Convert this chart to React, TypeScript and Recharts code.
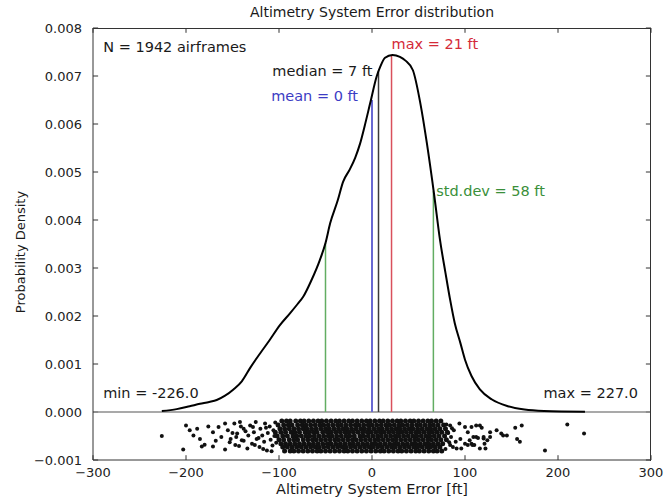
import { ComposedChart, Line, Scatter, XAxis, YAxis, ReferenceLine, ReferenceDot } from "recharts";

const FONT = "DejaVu Sans, sans-serif";

// kde curve
const curveX = [
  -226, -210, -196, -185, -175, -167, -158, -149, -140, -131, -120, -110, -99, -88, -80, -74,
  -65, -56, -50, -45, -37, -31, -24, -18, -13, -8, -2, 5, 9, 14, 22, 30, 36, 44, 52, 59, 67, 73,
  79, 84, 89, 95, 100, 107, 116, 129, 146, 164, 185, 229,
];
const curveY = [
  0.00002, 0.00006, 0.00012, 0.00017, 0.00021, 0.00025, 0.00034, 0.00047, 0.00064, 0.00092,
  0.00123, 0.0015, 0.00181, 0.00206, 0.00225, 0.0024, 0.00275, 0.00317, 0.00352, 0.00393,
  0.0044, 0.0048, 0.00505, 0.0053, 0.00558, 0.00595, 0.00643, 0.00699, 0.0072, 0.00738, 0.00744,
  0.0074, 0.00732, 0.00712, 0.00643, 0.0056, 0.0045, 0.0036, 0.0029, 0.00234, 0.00185, 0.00144,
  0.00109, 0.00075, 0.00047, 0.00026, 0.00012, 0.00005, 0.00002, 0.000005,
];

// vertical markers: x position and height (curve value there)
const statKeys = ["mean", "median", "max", "stdLo", "stdHi"];
const statX = [0, 7, 21, -50, 66];
const statTop = [0.0065, 0.0071, 0.00744, 0.00352, 0.0046];

const xTicks = [-300, -200, -100, 0, 100, 200, 300];
const yTicks = [-0.001, 0, 0.001, 0.002, 0.003, 0.004, 0.005, 0.006, 0.007, 0.008];

// strip of individual airframes under the curve (y in units of 1e-5)
const stripLoose =
  "-226:-50 -203:-78 -200:-28 -196:-38 -192:-49 -188:-35 -185:-56 -183:-72 -180:-68 -176:-30 " +
  "-171:-72 -171:-42 -168:-60 -165:-31 -162:-52 -158:-24 -158:-78 -155:-38 -153:-63 -152:-56 " +
  "-150:-44 -148:-24 -147:-69 -146:-52 -145:-45 -143:-71 -142:-21 -141:-30 -140:-59 -138:-35 " +
  "-138:-60 -136:-40 -134:-76 -133:-49 -131:-28 -129:-66 -128:-31 -127:-42 -126:-69 -125:-21 " +
  "-124:-56 -122:-54 -121:-73 -120:-35 -118:-49 -117:-77 -116:-62 -115:-24 -114:-33 -113:-80 " +
  "-112:-44 -110:-30 -109:-58 -108:-82 -107:-70 -106:-38 -105:-50 -104:-22 -103:-64 " +
  "80:-26 82:-44 83:-63 79:-77 84:-28 84:-69 85:-52 86:-34 87:-73 88:-38 90:-62 91:-76 " +
  "94:-24 95:-56 96:-76 100:-31 100:-66 103:-42 103:-69 105:-59 107:-31 107:-66 108:-69 " +
  "109:-52 110:-69 112:-28 112:-52 114:-54 116:-28 116:-76 118:-33 120:-55 120:-52 121:-66 " +
  "122:-76 124:-59 127:-42 127:-52 134:-38 139:-45 141:-49 145:-49 154:-33 156:-56 159:-62 " +
  "161:-28 186:-80 210:-26 228:-45";

const stripRows = [
  { y: -19, xs: [-97, -92, -88, -82, -77, -73, -68, -63, -58, -54, -49, -44, -39, -35, -30, -25, -21, -16, -11, -6, -2, 3, 8, 12, 17, 22, 27, 31, 36, 41, 45, 50, 55, 60, 64, 69, 74] },
  { y: -27, xs: [-101, -95, -90, -86, -80, -75, -71, -66, -61, -56, -52, -47, -42, -37, -33, -28, -23, -18, -14, -9, -4, 0, 5, 10, 15, 19, 24, 29, 33, 38, 43, 48, 52, 57, 62, 66, 71, 77] },
  { y: -35, xs: [-99, -94, -89, -84, -79, -74, -70, -65, -60, -55, -50, -46, -41, -36, -31, -27, -22, -17, -12, -8, -3, 2, 7, 11, 16, 21, 26, 30, 35, 40, 44, 49, 54, 59, 63, 68, 73, 79] },
  { y: -42, xs: [-104, -98, -93, -87, -83, -78, -72, -68, -63, -59, -53, -48, -44, -39, -34, -29, -25, -20, -15, -10, -5, -1, 4, 9, 13, 18, 23, 28, 32, 37, 42, 47, 51, 56, 61, 65, 70, 75, 81] },
  { y: -50, xs: [-102, -96, -91, -85, -81, -76, -71, -67, -62, -57, -52, -47, -43, -38, -33, -28, -24, -19, -13, -9, -4, 1, 6, 10, 15, 20, 25, 29, 34, 39, 44, 48, 53, 58, 62, 67, 72, 78] },
  { y: -58, xs: [-100, -95, -89, -84, -80, -74, -69, -64, -60, -55, -50, -45, -40, -36, -31, -26, -21, -17, -12, -7, -2, 3, 7, 12, 17, 22, 26, 31, 36, 41, 46, 50, 55, 60, 64, 69, 74, 80] },
  { y: -66, xs: [-98, -93, -88, -83, -78, -73, -68, -63, -58, -53, -48, -44, -39, -34, -29, -24, -20, -15, -10, -5, 0, 4, 9, 14, 19, 24, 28, 33, 38, 43, 47, 52, 57, 61, 66, 71, 76] },
  { y: -73, xs: [-96, -91, -86, -81, -76, -71, -66, -61, -57, -52, -47, -42, -37, -32, -28, -23, -18, -13, -8, -3, 1, 6, 11, 16, 21, 25, 30, 35, 40, 45, 49, 54, 59, 63, 68, 73] },
  { y: -81, xs: [-94, -88, -84, -79, -74, -69, -64, -59, -55, -50, -45, -40, -35, -30, -26, -21, -16, -11, -6, -1, 4, 9, 13, 18, 23, 28, 32, 37, 42, 47, 51, 56, 61, 66, 70, 75] },
];

const STAT_COLOR: Record<string, string> = {
  mean: "#6868d2",
  median: "#3a3a3a",
  max: "#d9505c",
  stdLo: "#62ad62",
  stdHi: "#62ad62",
};

// text placed in data coordinates
const notes = [
  { text: "N = 1942 airframes", x: -289, y: 0.0075, anchor: "start", color: "#1a1a1a" },
  { text: "median = 7 ft", x: 0.5, y: 0.007, anchor: "end", color: "#1a1a1a" },
  { text: "mean = 0 ft", x: -15, y: 0.00648, anchor: "end", color: "#3c3cc4" },
  { text: "max = 21 ft", x: 21, y: 0.00756, anchor: "start", color: "#d42a38" },
  { text: "std.dev = 58 ft", x: 69, y: 0.00449, anchor: "start", color: "#3a8f3a" },
  { text: "min = -226.0", x: -289, y: 0.00029, anchor: "start", color: "#1a1a1a" },
  { text: "max = 227.0", x: 286, y: 0.00029, anchor: "end", color: "#1a1a1a" },
];

const curve = curveX.map((x, i) => ({ x, y: curveY[i] }));
const looseDots = stripLoose.split(" ").map((p) => {
  const [a, b] = p.split(":");
  return { x: Number(a), y: Number(b) * 1e-5 };
});
const coreDots = stripRows.flatMap((r) => r.xs.map((x) => ({ x, y: r.y * 1e-5 })));

const minus = (s: string) => s.replace("-", "\u2212");
const fmtX = (v: number) => minus(String(v));
const fmtY = (v: number) => minus(v.toFixed(3));

const tickStyle = { fill: "#222", fontSize: 13, fontFamily: FONT };
const FRAME = "#333";
// inward tick length, in data units (~5px)
const TX = 5.5;
const TY = 0.0001;

export default function App() {
  return (
    <div style={{ position: "absolute", left: 0, top: 0, width: 667, height: 501, background: "#fff", fontFamily: FONT }}>
      <div style={{ position: "absolute", left: 93, top: 3, width: 558, textAlign: "center", fontSize: 14, lineHeight: "18px", color: "#1a1a1a" }}>
        Altimetry System Error distribution
      </div>
      <ComposedChart width={667} height={501} margin={{ top: 28, right: 16, bottom: 11, left: 33 }}>
        <XAxis
          dataKey="x"
          type="number"
          domain={[-300, 300]}
          ticks={xTicks}
          tickFormatter={fmtX}
          tick={tickStyle}
          tickLine={false}
          tickSize={0}
          tickMargin={8}
          height={30}
          stroke={FRAME}
          allowDataOverflow
          label={(p: any) => (
            <text x={p.viewBox.x + p.viewBox.width / 2} y={494} textAnchor="middle" fontSize={14.5} fontFamily={FONT} fill="#1a1a1a">
              Altimetry System Error [ft]
            </text>
          )}
        />
        <YAxis
          type="number"
          domain={[-0.001, 0.008]}
          ticks={yTicks}
          tickFormatter={fmtY}
          tick={tickStyle}
          tickLine={false}
          tickSize={0}
          tickMargin={11}
          width={60}
          stroke={FRAME}
          allowDataOverflow
          label={() => (
            <text x={25} y={252} transform="rotate(-90, 25, 252)" textAnchor="middle" fontSize={13} fontFamily={FONT} fill="#1a1a1a">
              Probability Density
            </text>
          )}
        />

        {/* inward ticks on all four sides */}
        {xTicks.map((t) => (
          <ReferenceLine key={"b" + t} segment={[{ x: t, y: -0.001 }, { x: t, y: -0.001 + TY }]} stroke={FRAME} />
        ))}
        {xTicks.map((t) => (
          <ReferenceLine key={"t" + t} segment={[{ x: t, y: 0.008 }, { x: t, y: 0.008 - TY }]} stroke={FRAME} />
        ))}
        {yTicks.map((t) => (
          <ReferenceLine key={"l" + t} segment={[{ x: -300, y: t }, { x: -300 + TX, y: t }]} stroke={FRAME} />
        ))}
        {yTicks.map((t) => (
          <ReferenceLine key={"r" + t} segment={[{ x: 300, y: t }, { x: 300 - TX, y: t }]} stroke={FRAME} />
        ))}

        <ReferenceLine y={0} stroke="#8c8c8c" strokeWidth={1.5} />
        {statKeys.map((k, i) => (
          <ReferenceLine
            key={k}
            segment={[{ x: statX[i], y: 0 }, { x: statX[i], y: statTop[i] }]}
            stroke={STAT_COLOR[k]}
            strokeWidth={k === "mean" ? 2 : 1.5}
          />
        ))}

        <Scatter
          data={looseDots}
          dataKey="y"
          isAnimationActive={false}
          shape={(p: any) => <circle cx={p.cx} cy={p.cy} r={2} fill="#111" />}
        />
        <Scatter
          data={coreDots}
          dataKey="y"
          isAnimationActive={false}
          shape={(p: any) => <circle cx={p.cx} cy={p.cy} r={2.5} fill="#111" />}
        />
        <Line data={curve} dataKey="y" type="monotone" stroke="#000" strokeWidth={2} dot={false} isAnimationActive={false} />

        {notes.map((n) => (
          <ReferenceDot
            key={n.text}
            x={n.x}
            y={n.y}
            r={0}
            stroke="none"
            fill="none"
            label={(p: any) => (
              <text x={p.viewBox.x} y={p.viewBox.y} textAnchor={n.anchor} fontSize={14.5} fontFamily={FONT} fill={n.color}>
                {n.text}
              </text>
            )}
          />
        ))}
      </ComposedChart>
      {/* top and right edges of the axes box */}
      <div style={{ position: "absolute", left: 93, top: 28, width: 557, height: 432, borderTop: `1px solid ${FRAME}`, borderRight: `1px solid ${FRAME}`, pointerEvents: "none" }} />
    </div>
  );
}
